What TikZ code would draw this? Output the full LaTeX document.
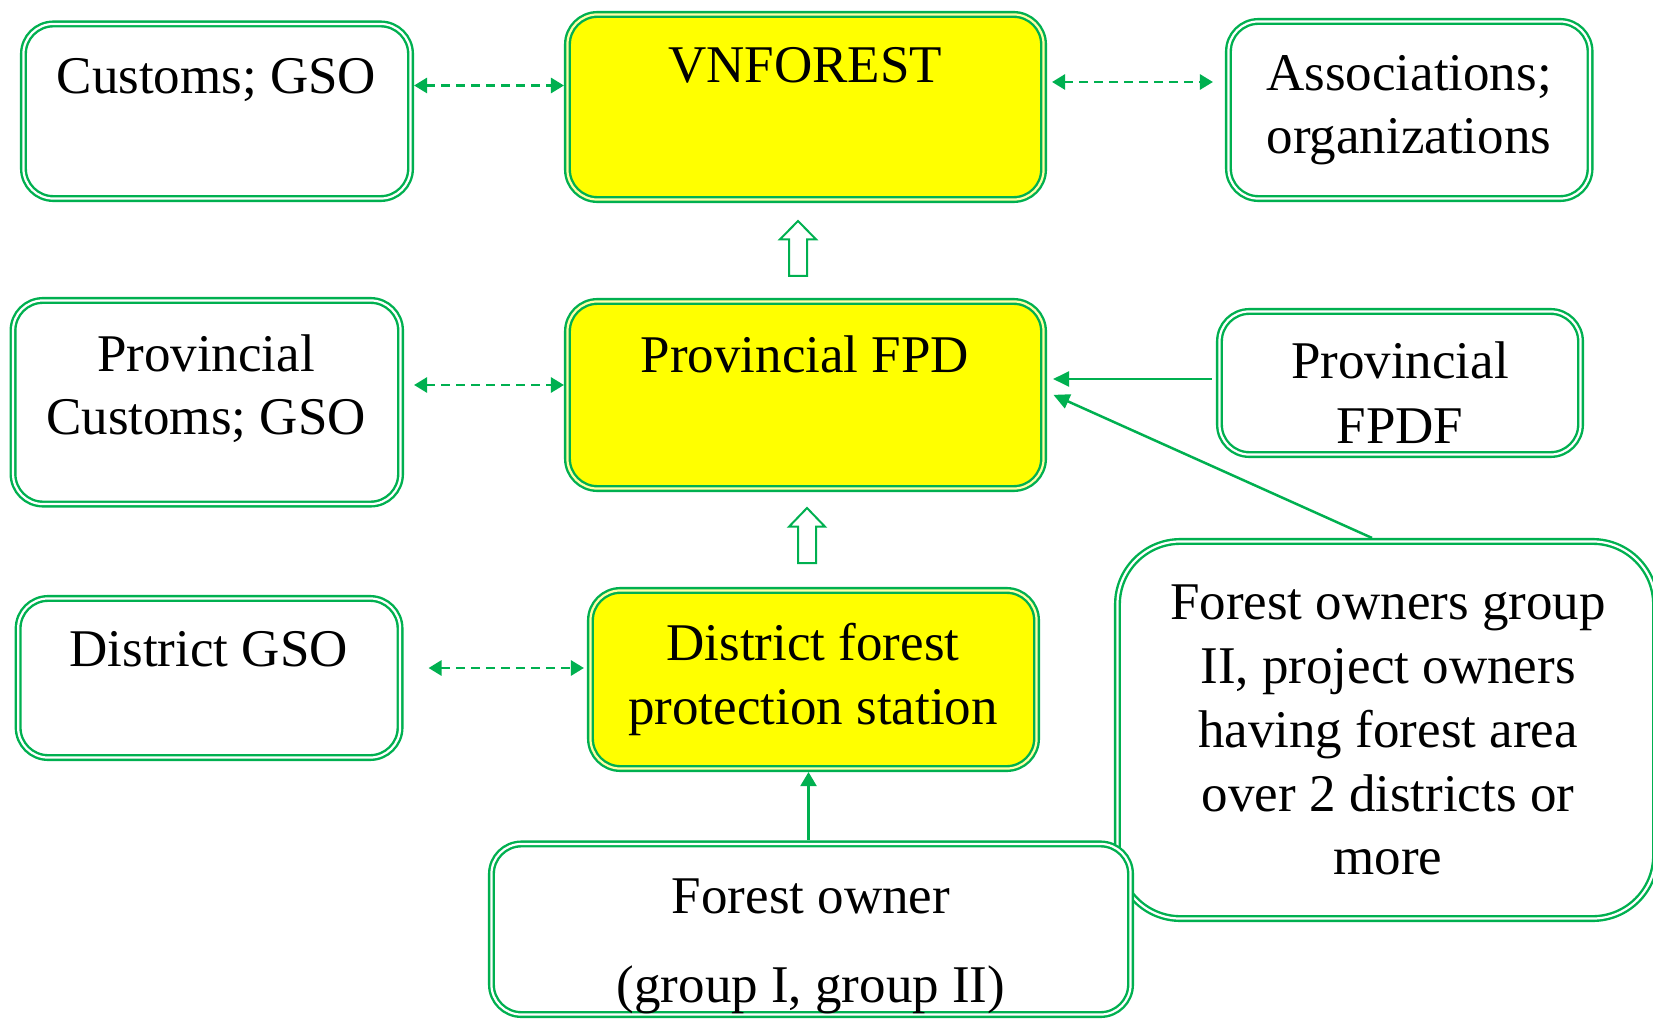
\documentclass[tikz,border=0pt]{standalone}
\usepackage{fontspec}
\setmainfont{Liberation Serif}
\usetikzlibrary{arrows.meta}
\definecolor{fgreen}{HTML}{00B050}
\definecolor{fyellow}{HTML}{FFFF00}
\begin{document}
\begin{tikzpicture}[x=0.5pt,y=-0.5pt,
 box/.style={draw=fgreen, line width=1.2pt, double=white, double distance=1.1pt,
   rounded corners=15pt, inner sep=0pt, outer sep=1.75pt, fill=white},
 ybox/.style={box, fill=fyellow, double=fyellow!35!white},
 txt/.style={inner sep=0pt, anchor=base, font=\fontsize{26.5}{31.5}\selectfont},
 darr/.style={draw=fgreen, line width=1.4pt, dash pattern=on 4.5pt off 3pt,
   {Triangle[length=6.5pt,width=7.5pt]}-{Triangle[length=6.5pt,width=7.5pt]}},
 sarr/.style={draw=fgreen, line width=1.25pt, -{Triangle[length=8pt,width=7.5pt]}},
 hollow/.style={draw=fgreen, line width=1pt, fill=white, line join=miter},
]
\useasboundingbox (0,0) rectangle (1653,1021);

% boxes
\node[box, minimum width=193.55pt, minimum height=87.3pt] (cust) at (217,111.25) {};
\node[ybox, minimum width=238.05pt, minimum height=92.55pt] (vnf) at (805.5,107) {};
\node[box, minimum width=180.8pt, minimum height=88.55pt] (assoc) at (1409.25,110) {};
\node[box, minimum width=193.75pt, minimum height=101.8pt] (pcust) at (206.8,402.25) {};
\node[ybox, minimum width=238.05pt, minimum height=93.55pt] (pfpd) at (805.5,395) {};
\node[box, minimum width=180.55pt, minimum height=71.55pt] (pfpdf) at (1400,383) {};
\node[box, minimum width=190.95pt, minimum height=79.55pt] (dgso) at (209.1,678) {};
\node[ybox, minimum width=223.05pt, minimum height=89.05pt] (dfps) at (813.5,679.5) {};
\node[box, rounded corners=31.5pt, minimum width=269.05pt, minimum height=188.55pt] (og) at (1386.5,730) {};
\node[box, minimum width=319.55pt, minimum height=85.3pt] (fo) at (811,929.25) {};

% texts
\node[txt] (custT) at (216.5,93.5) {Customs; GSO};
\node[txt] (vnfT) at (805,83) {VNFOREST};
\node[txt] (assocT1) at (1409,90.5) {Associations;};
\node[txt] (assocT2) at (1409,154) {organizations};
\node[txt] (pcustT1) at (206,371.5) {Provincial};
\node[txt] (pcustT2) at (206,434.5) {Customs; GSO};
\node[txt] (pfpdT) at (805,372) {Provincial FPD};
\node[txt] (pfpdfT1) at (1400,379) {Provincial};
\node[txt] (pfpdfT2) at (1400,443) {FPDF};
\node[txt] (dgsoT) at (208.7,666) {District GSO};
\node[txt] (dfpsT1) at (813,660) {District forest};
\node[txt] (dfpsT2) at (813,724) {protection station};
\node[txt] (foT1) at (811,913) {Forest owner};
\node[txt] (foT2) at (811,1002) {(group I, group II)};
\node[txt] (ogT1) at (1388,619.6) {Forest owners group};
\node[txt] (ogT2) at (1388,683.7) {II, project owners};
\node[txt] (ogT3) at (1388,747.5) {having forest area};
\node[txt] (ogT4) at (1388,811) {over 2 districts or};
\node[txt] (ogT5) at (1388,874.7) {more};

% dashed two-way connectors
\draw[darr] (cust.east |- 0,85.5) -- (vnf.west |- 0,85.5);
\draw[darr, shorten <=2.5pt, shorten >=6pt] (vnf.east |- 0,82) -- (assoc.west |- 0,82);
\draw[darr, shorten <=5pt] (pcust.east |- 0,385) -- (pfpd.west |- 0,385);
\draw[darr, shorten <=12.5pt, shorten >=1.5pt] (dgso.east |- 0,668) -- (dfps.west |- 0,668);

% solid connectors
\draw[sarr, shorten <=2pt, shorten >=3pt] (pfpdf.west |- 0,379) -- (pfpd.east |- 0,379);
\draw[sarr, shorten >=3.5pt] (og.north -| 1372,0) -- (pfpd.east |- 0,392);
\draw[sarr, line width=1.1pt, -{Triangle[length=7pt,width=8pt]}] (fo.north -| 808.5,0) -- (dfps.south -| 808.5,0);

% hollow block arrows
\coordinate (h1) at (798,276);
\draw[hollow] (h1) +(-9,0) -- +(-9,-36.7) -- +(-18,-36.7) -- +(0,-55) -- +(18,-36.7) -- +(9,-36.7) -- +(9,0) -- cycle;
\coordinate (h2) at (807,563);
\draw[hollow] (h2) +(-9,0) -- +(-9,-36.3) -- +(-18,-36.3) -- +(0,-55) -- +(18,-36.3) -- +(9,-36.3) -- +(9,0) -- cycle;
\end{tikzpicture}
\end{document}
